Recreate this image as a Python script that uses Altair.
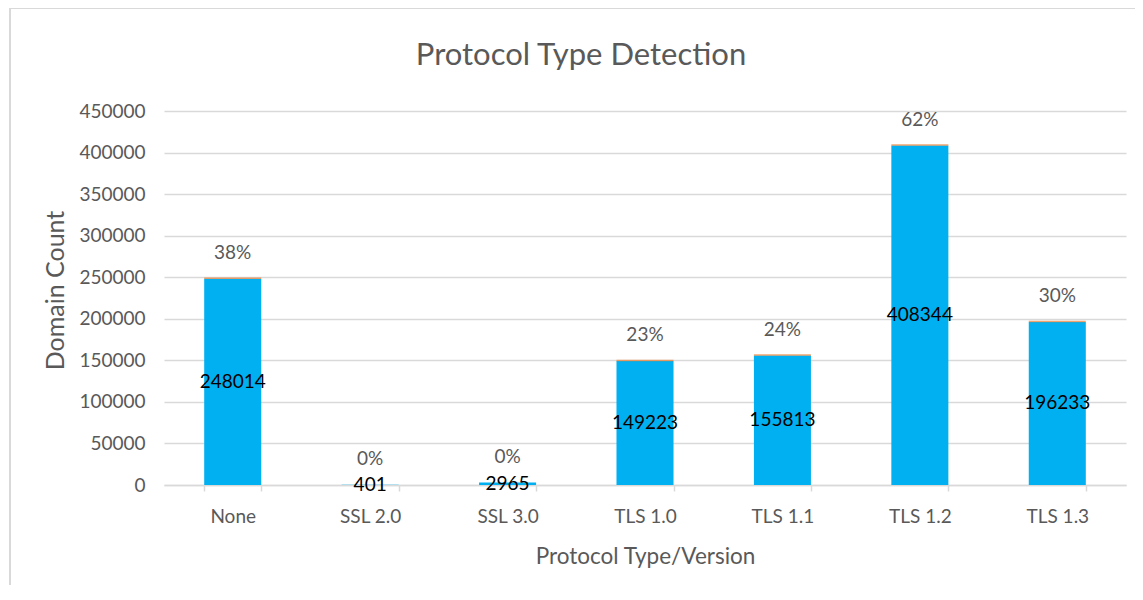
import altair as alt
import pandas as pd

protocols = ["None", "SSL 2.0", "SSL 3.0", "TLS 1.0", "TLS 1.1", "TLS 1.2", "TLS 1.3"]
counts = [248014, 401, 2965, 149223, 155813, 408344, 196233]
shares = [0.38, 0.0, 0.0, 0.23, 0.24, 0.62, 0.30]
chart_title = "Protocol Type Detection"

df = pd.DataFrame({"protocol": protocols, "count": counts, "share": shares})

FONT = "Lato"
GRAY = "#595959"

x = alt.X("protocol:N", sort=protocols, title="Protocol Type/Version",
          scale=alt.Scale(paddingInner=0.585, paddingOuter=0.2925),
          axis=alt.Axis(labelAngle=0, labelFontSize=19, labelColor=GRAY, labelFont=FONT,
                        titleFontSize=22.5, titleColor=GRAY, titleFont=FONT, titleFontWeight="normal",
                        titlePadding=19, domainColor="#d9d9d9", domainWidth=1.5,
                        tickColor="#d9d9d9", tickSize=6, tickWidth=1.5, tickBand="extent",
                        labelPadding=16))

y_scale = alt.Scale(domain=[0, 450000])

base = alt.Chart(df)

bars = base.mark_bar(color="#00B0F0").encode(
    x=x,
    y=alt.Y("count:Q", scale=y_scale, title="Domain Count",
            axis=alt.Axis(values=list(range(0, 450001, 50000)), format="d",
                          labelFontSize=19, labelColor=GRAY, labelFont=FONT,
                          titleFontSize=25, titleColor=GRAY, titleFont=FONT, titleFontWeight="normal",
                          titlePadding=10, titleY=179, gridColor="#d9d9d9", gridWidth=1.5,
                          domain=False, ticks=False, labelPadding=19)),
)

tops = base.mark_tick(color="#ED7D31", thickness=1.5, size=57, yOffset=-0.5).encode(
    x=x, y=alt.Y("count:Q", scale=y_scale)
).transform_filter("datum.share > 0")

count_labels = base.mark_text(font=FONT, fontSize=19, color="#000000", baseline="middle").encode(
    x=x, y=alt.Y("mid:Q", scale=y_scale), text=alt.Text("count:Q", format="d")
).transform_calculate(mid="datum.count / 2")

pct_labels = base.mark_text(font=FONT, fontSize=19, color=GRAY, baseline="bottom", dy=-16).encode(
    x=x, y=alt.Y("count:Q", scale=y_scale), text=alt.Text("share:Q", format=".0%")
)

single = alt.Chart(pd.DataFrame({"a": [0]}))

frame = single.mark_rect(fill=None, stroke="#d9d9d9", strokeWidth=2).encode(
    x=alt.value(-154), x2=alt.value(977), y=alt.value(-103), y2=alt.value(600)
)

title_text = single.mark_text(text=chart_title, font=FONT, fontSize=31, color=GRAY,
                              align="center", baseline="middle").encode(
    x=alt.value(417), y=alt.value(-55)
)

chart = alt.layer(frame, bars, tops, count_labels, pct_labels, title_text).properties(
    width=962, height=374,
    autosize=alt.AutoSizeParams(type="none"),
    padding={"left": 156, "top": 103, "right": 9, "bottom": 100},
).configure_view(stroke=None)

chart.save("out.html", embed_options={"renderer": "svg", "actions": False})
